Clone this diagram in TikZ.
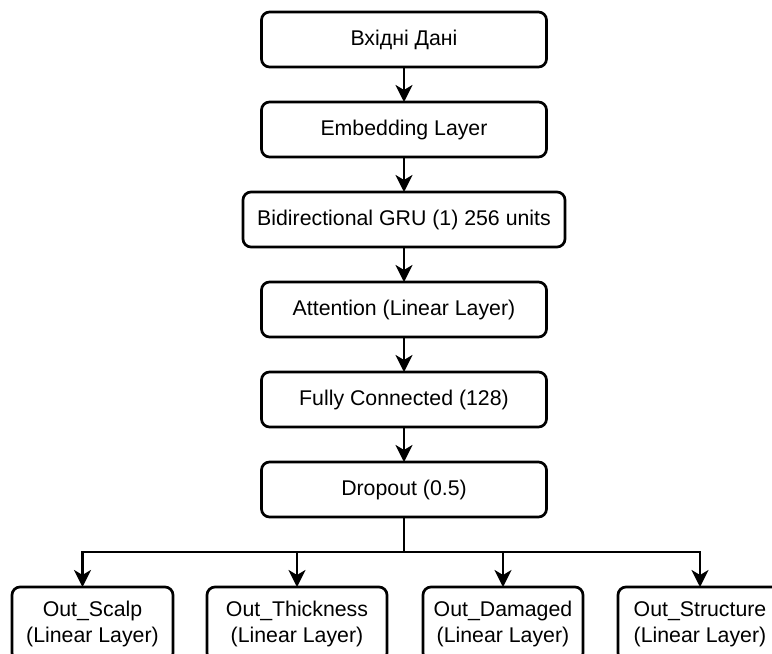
\documentclass[tikz,border=0pt]{standalone}
\usepackage{fontspec}
\setmainfont{Liberation Sans}
\usetikzlibrary{positioning, arrows.meta}
\tikzset{
    layer/.style={rectangle, rounded corners=8pt, draw=black, line width=2.7pt, fill=white, minimum width=285pt, minimum height=55pt, inner sep=0pt, outer sep=0pt},
    widelayer/.style={layer, minimum width=322pt},
    outlayer/.style={rectangle, rounded corners=8pt, draw=black, line width=2.7pt, fill=white, minimum height=74pt, inner sep=0pt, outer sep=0pt, align=center, font=\fontsize{21.3}{26}\selectfont},
    arrow/.style={-{Stealth[length=17pt, width=17pt, inset=5pt]}, line width=2.7pt}
}

\begin{document}
\begin{tikzpicture}[x=1pt, y=1pt, node distance=35pt, every node/.style={font=\fontsize{21.3}{24}\selectfont}]
\useasboundingbox (0,0) rectangle (772,-654);

% Main chain
\node (input) [layer] at (404,-39.5) {Вхідні Дані};
\node (embed) [layer, below=of input] {Embedding Layer};
\node (gru) [widelayer, below=of embed] {Bidirectional GRU (1) 256 units};
\node (attn) [layer, below=of gru] {Attention (Linear Layer)};
\node (fc) [layer, below=of attn] {Fully Connected (128)};
\node (drop) [layer, below=of fc] {Dropout (0.5)};

% Output heads
\node (scalp) [outlayer, minimum width=161pt, anchor=north west] at (12,-587) {Out\_Scalp\\(Linear Layer)};
\node (thick) [outlayer, minimum width=180pt, right=34pt of scalp] {Out\_Thickness\\(Linear Layer)};
\node (damaged) [outlayer, minimum width=160pt, right=36pt of thick] {Out\_Damaged\\(Linear Layer)};
\node (struct) [outlayer, minimum width=164pt, right=35pt of damaged] {Out\_Structure\\(Linear Layer)};

% Arrows between layers
\draw[arrow] (input) -- (embed);
\draw[arrow] (embed) -- (gru);
\draw[arrow] (gru) -- (attn);
\draw[arrow] (attn) -- (fc);
\draw[arrow] (fc) -- (drop);

% Branches
\coordinate (split) at ([yshift=-35pt]drop.south);
\draw[line width=2.7pt] (drop.south) -- (split);
\draw[arrow] (split) -| ([xshift=-10pt]scalp.north);
\draw[arrow] (split) -| (thick.north);
\draw[arrow] (split) -| (damaged.north);
\draw[arrow] (split) -| (struct.north);

\end{tikzpicture}
\end{document}
